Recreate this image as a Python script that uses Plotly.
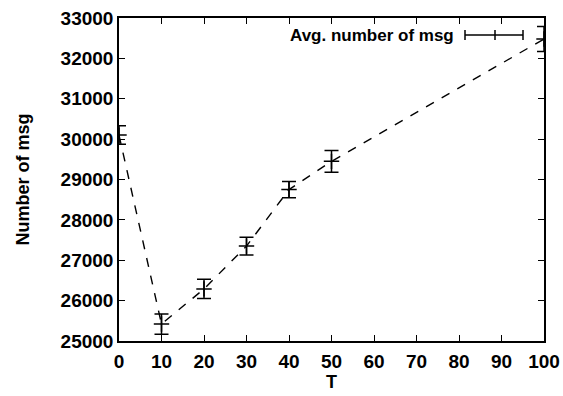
import plotly.graph_objects as go

T = [0, 10, 20, 30, 40, 50, 100]
avg_msg = [30100, 25420, 26290, 27350, 28750, 29450, 32480]
err = [230, 250, 240, 220, 200, 270, 310]
x_ticks = list(range(0, 101, 10))
y_ticks = list(range(25000, 33001, 1000))
series_name = "Avg. number of msg"

FONT = "Liberation Sans"
FS = 19

fig = go.Figure()
fig.add_trace(go.Scatter(
    x=T, y=avg_msg, mode="lines+markers", name=series_name,
    line=dict(color="black", width=1.4, dash="dash"),
    marker=dict(symbol="cross-thin", size=11, line=dict(color="black", width=1.5)),
    error_y=dict(type="data", array=err, visible=True, color="black", thickness=1.5, width=7),
    showlegend=False,
))

# manual gnuplot-style legend: text, then sample line with error bar
L = 119; W = 425; B = 341; H = 323
def px(x): return (x - L) / W
def py(y): return (B - y) / H
ly = py(35)
fig.add_annotation(x=px(456), y=ly, xref="paper", yref="paper", text="<b>" + series_name + "</b>",
                   showarrow=False, xanchor="right", yanchor="middle",
                   font=dict(family=FONT, size=17, color="black"))
fig.add_shape(type="line", xref="paper", yref="paper", x0=px(465), x1=px(523), y0=ly, y1=ly,
              line=dict(color="black", width=1.5))
for xx in (465, 523, 495):
    fig.add_shape(type="line", xref="paper", yref="paper", x0=px(xx), x1=px(xx),
                  y0=py(30), y1=py(40), line=dict(color="black", width=1.5))

axis_common = dict(
    showgrid=False, zeroline=False, showline=True, linecolor="black", linewidth=1.5,
    mirror="ticks", ticks="inside", ticklen=6, tickwidth=1, tickcolor="black",
    tickfont=dict(family=FONT, size=FS, color="black", weight="bold"),
    automargin=False,
)
fig.update_xaxes(range=[0, 100], tickvals=x_ticks, ticktext=[str(v) for v in x_ticks],
                 ticklabelstandoff=2,
                 title=dict(text="<b>T</b>", font=dict(family=FONT, size=18, color="black"), standoff=1),
                 **axis_common)
fig.update_yaxes(range=[25000, 33000], tickvals=y_ticks, ticktext=[str(v) for v in y_ticks],
                 title=dict(text="<b>Number of msg</b>", font=dict(family=FONT, size=18, color="black"), standoff=26),
                 **axis_common)
fig.update_layout(
    width=563, height=396,
    margin=dict(l=119, r=19, t=18, b=55),
    plot_bgcolor="white", paper_bgcolor="white",
)
fig.write_html("out.html")
